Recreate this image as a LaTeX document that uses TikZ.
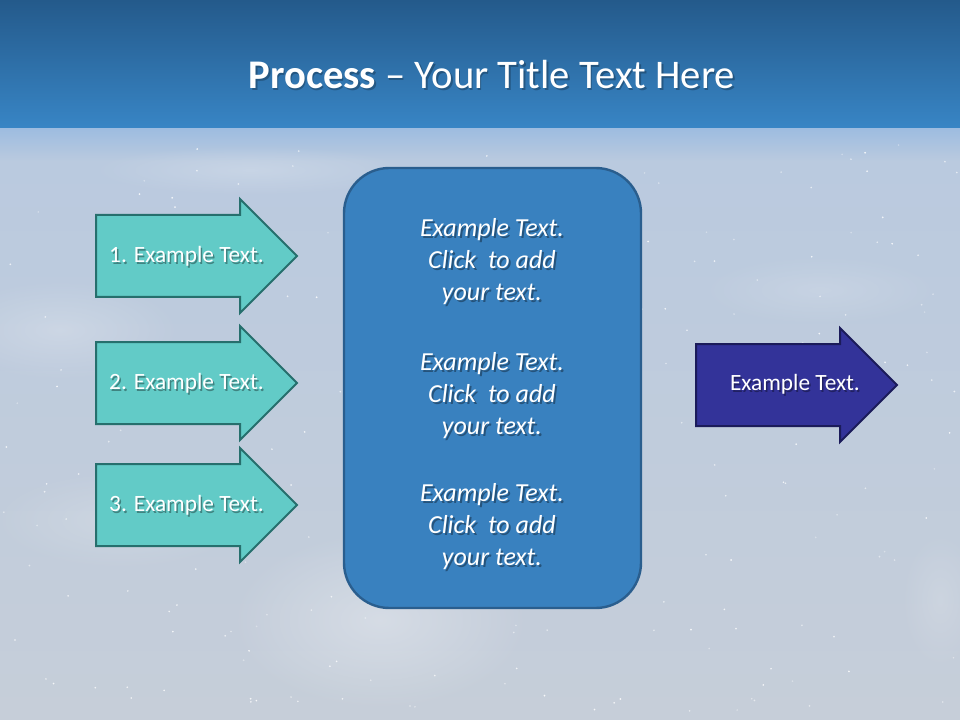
\documentclass[tikz,border=0pt]{standalone}
\usepackage{fontspec}
\setmainfont{Carlito}
\usetikzlibrary{fadings}
\definecolor{bandtop}{HTML}{245A8B}
\definecolor{bandbot}{HTML}{3885C5}
\definecolor{glowtop}{HTML}{9DBCE0}
\definecolor{bgtop}{HTML}{BACADF}
\definecolor{bgbot}{HTML}{C6CED9}
\definecolor{tealfill}{HTML}{62CBC7}
\definecolor{tealline}{HTML}{266F6D}
\definecolor{boxfill}{HTML}{3981BF}
\definecolor{boxline}{HTML}{2A5E8E}
\definecolor{navyfill}{HTML}{333399}
\definecolor{navyline}{HTML}{1B1B5A}
\tikzfading[name=fuzzy, inner color=transparent!0, outer color=transparent!100]
\tikzset{
  tealarrow/.style={fill=tealfill, draw=tealline, line width=1.5pt, line join=miter},
  navyarrow/.style={fill=navyfill, draw=navyline, line width=1.5pt, line join=miter},
  bigbox/.style={fill=boxfill, draw=boxline, line width=1.8pt, rounded corners=34pt},
  arrowlbl/.style={text=white, font=\fontsize{17.5}{21}\selectfont, inner sep=0pt},
  boxlbl/.style={text=white, font=\itshape\fontsize{19.5}{24}\selectfont, align=center, inner sep=0pt},
  shadowlbl/.style={text=black, opacity=0.35},
  glow/.style={fill=white, path fading=fuzzy}
}
\begin{document}
\begin{tikzpicture}[x=0.75pt,y=-0.75pt]
\useasboundingbox (0,0) rectangle (960,720);
% background
\shade[top color=bgtop, bottom color=bgbot] (0,160) rectangle (960,720);
\shade[top color=glowtop, bottom color=bgtop] (0,128) rectangle (960,161);
\shade[top color=bandtop, bottom color=bandbot] (0,0) rectangle (960,128);
% soft glows
\fill[glow, opacity=0.30] (380,620) ellipse (150 and 90);
\fill[glow, opacity=0.22] (60,330) ellipse (120 and 50);
\fill[glow, opacity=0.18] (120,520) ellipse (130 and 50);
\fill[glow, opacity=0.15] (940,600) ellipse (40 and 70);
\fill[glow, opacity=0.20] (250,170) ellipse (160 and 25);
\fill[glow, opacity=0.15] (820,290) ellipse (120 and 35);
% stars
\pgfmathsetseed{12}
\foreach \i in {1,...,220}{
  \pgfmathsetmacro\sx{rnd*960}
  \pgfmathsetmacro\sy{140+rnd*580}
  \pgfmathsetmacro\so{0.3+0.6*rnd}
  \fill[white, opacity=\so] (\sx,\sy) circle (0.7pt);
}
% title
\node[text=black, opacity=0.25, font=\fontsize{30.5}{36}\selectfont, inner sep=0pt] at (493.5,76.5) {\textbf{Process} – Your Title Text Here};
\node[text=white, font=\fontsize{30.5}{36}\selectfont, inner sep=0pt] (title) at (492,75) {\textbf{Process} – Your Title Text Here};
% left arrows
\draw[tealarrow] (96,215) -- (240,215) -- (240,199) -- (297,256) -- (240,313) -- (240,297) -- (96,297) -- cycle;
\draw[tealarrow] (96,342) -- (240,342) -- (240,326) -- (297,383) -- (240,440) -- (240,424) -- (96,424) -- cycle;
\draw[tealarrow] (96,464) -- (240,464) -- (240,448) -- (297,505) -- (240,562) -- (240,546) -- (96,546) -- cycle;
\node[arrowlbl, shadowlbl] at (188,258) {1. Example Text.};
\node[arrowlbl] (a1) at (186.5,256) {1. Example Text.};
\node[arrowlbl, shadowlbl] at (188,385) {2. Example Text.};
\node[arrowlbl] (a2) at (186.5,383) {2. Example Text.};
\node[arrowlbl, shadowlbl] at (188,507) {3. Example Text.};
\node[arrowlbl] (a3) at (186.5,505) {3. Example Text.};
% center box
\draw[bigbox] (344,168) rectangle (641,608);
\node[boxlbl, shadowlbl] at (494,264) {Example Text.\\Click\ \ to add\\your text.};
\node[boxlbl] (b1) at (492,262) {Example Text.\\Click\ \ to add\\your text.};
\node[boxlbl, shadowlbl] at (494,398) {Example Text.\\Click\ \ to add\\your text.};
\node[boxlbl] (b2) at (492,396) {Example Text.\\Click\ \ to add\\your text.};
\node[boxlbl, shadowlbl] at (494,529) {Example Text.\\Click\ \ to add\\your text.};
\node[boxlbl] (b3) at (492,527) {Example Text.\\Click\ \ to add\\your text.};
% right arrow
\draw[navyarrow] (696,344) -- (840,344) -- (840,328) -- (897,385) -- (840,442) -- (840,426) -- (696,426) -- cycle;
\node[arrowlbl, shadowlbl] at (796.5,386) {Example Text.};
\node[arrowlbl] (r1) at (795,384) {Example Text.};
\end{tikzpicture}
\end{document}
